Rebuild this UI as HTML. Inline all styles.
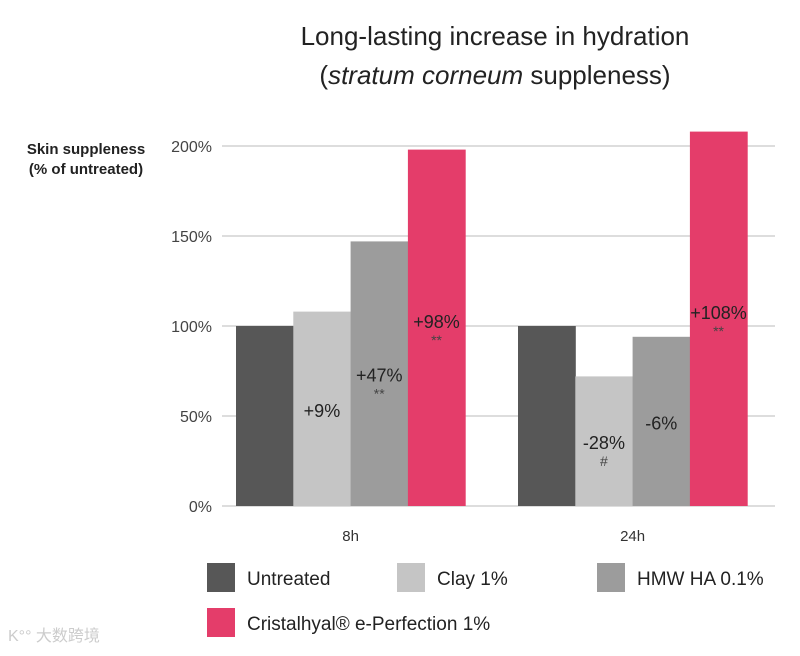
<!DOCTYPE html>
<html><head><meta charset="utf-8"><style>
body{margin:0;background:#fff;width:800px;height:651px;overflow:hidden;font-family:"Liberation Sans",sans-serif;}
svg text{font-family:"Liberation Sans","Noto Sans CJK SC",sans-serif;}
</style></head><body>
<svg id="chart" width="800" height="651" xmlns="http://www.w3.org/2000/svg">
<text x="495" y="45" font-size="26" text-anchor="middle" fill="#222">Long-lasting increase in hydration</text>
<text x="495" y="84" font-size="26" text-anchor="middle" fill="#222">(<tspan font-style="italic">stratum corneum</tspan> suppleness)</text>
<text x="86" y="154" font-size="15" font-weight="bold" text-anchor="middle" fill="#222">Skin suppleness</text>
<text x="86" y="174" font-size="15" font-weight="bold" text-anchor="middle" fill="#222">(% of untreated)</text>
<g id="grid"></g><g id="bars"></g><g id="labels"></g><g id="legend"></g>
<text x="8" y="641" font-size="16" fill="#ccc">K°° 大数跨境</text>
</svg>
<script>
const categories=["8h","24h"];
const series=["Untreated","Clay 1%","HMW HA 0.1%","Cristalhyal® e-Perfection 1%"];
const colors=["#575757","#c5c5c5","#9c9c9c","#e43d6a"];
const values8h=[100,108,147,198];
const values24h=[100,72,94,208];
const annot8h=["","+9%","+47%","+98%"];
const annot24h=["","-28%","-6%","+108%"];
const sig8h=["","","**","**"];
const sig24h=["","#","","**"];
const ticks=[0,50,100,150,200];
const tickLabels=["0%","50%","100%","150%","200%"];
const NS="http://www.w3.org/2000/svg";
const y=v=>506-v*1.8;
const groupX=[236,518], bw=57.3;
function mk(tag,attrs,parent,txt){const e=document.createElementNS(NS,tag);for(const k in attrs)e.setAttribute(k,attrs[k]);if(txt!==undefined)e.textContent=txt;parent.appendChild(e);return e;}
const grid=document.getElementById('grid'),bars=document.getElementById('bars'),labels=document.getElementById('labels'),legend=document.getElementById('legend');
ticks.forEach((t,i)=>{
 const l=mk('line',{x1:222,x2:775,y1:y(t),y2:y(t),stroke:'#ddd','stroke-width':2},grid);
 
 
 const tx=mk('text',{x:212,y:y(t)+6,'font-size':16,'text-anchor':'end',fill:'#444'},grid,tickLabels[i]);
 
 
});
const allVals=[values8h,values24h],allAnn=[annot8h,annot24h],allSig=[sig8h,sig24h];
categories.forEach((c,g)=>{
 allVals[g].forEach((v,i)=>{
  const x=groupX[g]+i*bw;
  const r=mk('rect',{x:x,y:y(v),width:bw+0.5,height:y(0)-y(v),fill:colors[i]},bars);
  
  
  if(allAnn[g][i]){
   const mid=(y(v)+y(0))/2;
   const ly=(i===3)?Math.min(mid,y(100)+2):mid+8;
   const t=mk('text',{x:x+bw/2,y:ly,'font-size':18,'text-anchor':'middle',fill:'#222'},labels,allAnn[g][i]);
   
   
   if(allSig[g][i]){
    const s=mk('text',{x:x+bw/2,y:ly+17,'font-size':14,'text-anchor':'middle',fill:'#444'},labels,allSig[g][i]);
    
    
   }
  }
 });
 const xl=mk('text',{x:groupX[g]+2*bw,y:541,'font-size':15,'text-anchor':'middle',fill:'#333'},labels,c);
 
 
});
const legPos=[[207,563],[397,563],[597,563],[207,608]];
series.forEach((s,i)=>{
 const sw=mk('rect',{x:legPos[i][0],y:legPos[i][1],width:28,height:29,fill:colors[i]},legend);
 
 
 const t=mk('text',{x:legPos[i][0]+40,y:legPos[i][1]+22,'font-size':19,fill:'#222'},legend,s);
 
 
});
</script>
</body></html>
